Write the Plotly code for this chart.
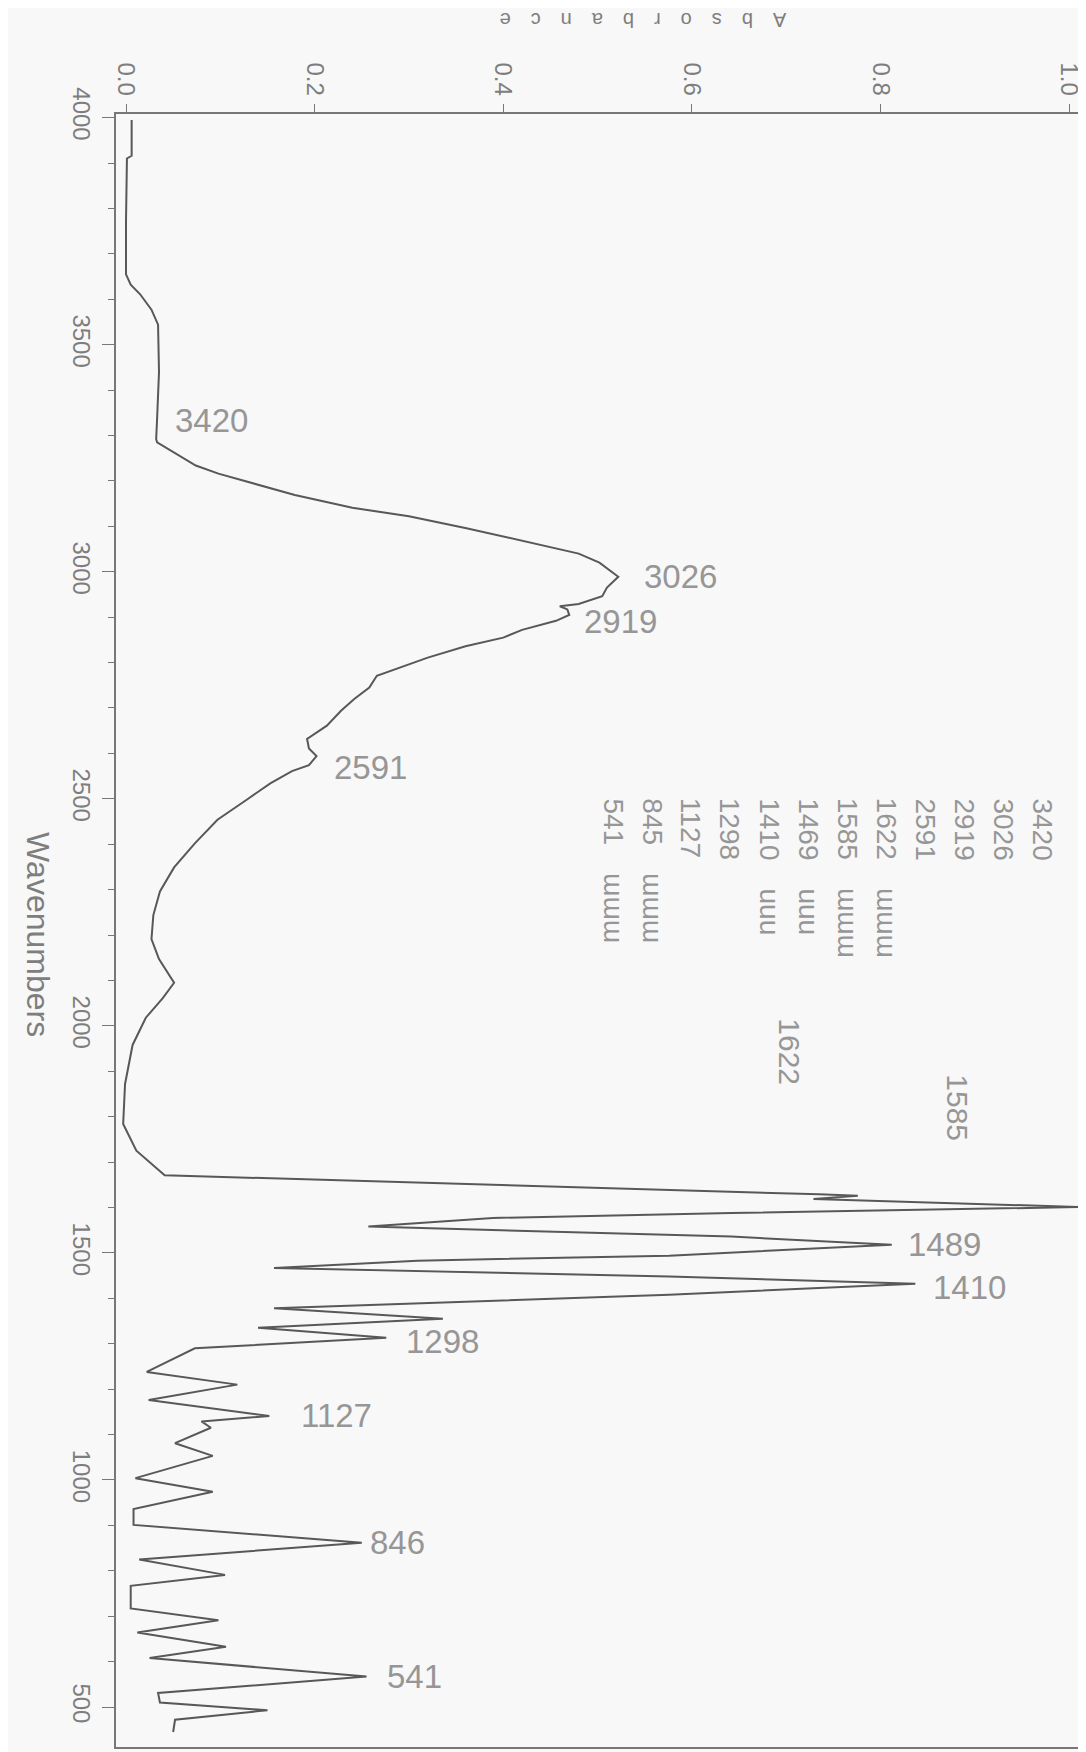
import plotly.graph_objects as go

# ---------------- data ----------------
wavenumber = [3995, 3916, 3910, 3771, 3655, 3632, 3611, 3577, 3544, 3440, 3338, 3292, 3285,
              3267, 3234, 3216, 3198, 3169, 3141, 3122, 3096, 3067, 3040, 3020, 2989, 2965,
              2946, 2929, 2924, 2917, 2905, 2892, 2872, 2855, 2836, 2811, 2785, 2771, 2745,
              2720, 2694, 2661, 2632, 2611, 2594, 2574, 2561, 2534, 2498, 2454, 2402, 2349,
              2296, 2244, 2191, 2147, 2095, 2061, 2018, 1958, 1872, 1784, 1725, 1689, 1671,
              1629, 1626, 1619, 1601, 1588, 1577, 1558, 1551, 1536, 1518, 1494, 1483, 1467,
              1448, 1432, 1408, 1378, 1355, 1335, 1313, 1290, 1238, 1210, 1176, 1141, 1129,
              1115, 1081, 1053, 1004, 974, 936, 901, 862, 825, 791, 767, 717, 691, 664, 633,
              608, 567, 531, 510, 493, 472, 445]
absorbance = [0.006, 0.006, 0.001, 0.000, 0.000, 0.005, 0.015, 0.027, 0.034, 0.035, 0.033, 0.032, 0.033,
              0.048, 0.074, 0.098, 0.130, 0.179, 0.240, 0.300, 0.361, 0.422, 0.480, 0.502, 0.522, 0.510,
              0.505, 0.480, 0.460, 0.468, 0.470, 0.456, 0.420, 0.400, 0.360, 0.320, 0.285, 0.266, 0.258,
              0.242, 0.228, 0.213, 0.192, 0.194, 0.202, 0.194, 0.176, 0.153, 0.128, 0.097, 0.073, 0.051,
              0.036, 0.029, 0.027, 0.035, 0.051, 0.039, 0.021, 0.007, -0.001, -0.003, 0.011, 0.031, 0.041,
              0.735, 0.776, 0.729, 1.012, 0.642, 0.389, 0.257, 0.376, 0.642, 0.812, 0.576, 0.309, 0.157,
              0.576, 0.837, 0.576, 0.157, 0.336, 0.140, 0.276, 0.073, 0.022, 0.118, 0.024, 0.152, 0.080,
              0.090, 0.052, 0.092, 0.010, 0.092, 0.008, 0.008, 0.250, 0.014, 0.105, 0.005, 0.005, 0.098,
              0.012, 0.106, 0.025, 0.255, 0.034, 0.036, 0.150, 0.052, 0.050]

peak_labels = ["3420", "3026", "2919", "2591", "1489", "1410", "1298", "1127", "846", "541"]
side_labels = ["1622", "1585"]
table_rows = ["3420", "3026", "2919", "2591", "1622\u2003ɯɯɯ", "1585\u2003ɯɯɯ", "1469\u2003uuu",
              "1410\u2003uuu", "1298", "1127", "845\u2003ɯɯɯ", "541\u2003ɯɯɯ"]

x_ticks = [0.0, 0.2, 0.4, 0.6, 0.8, 1.0]
x_tick_text = ["0.0", "0.2", "0.4", "0.6", "0.8", "1.0"]
y_ticks = [500, 1000, 1500, 2000, 2500, 3000, 3500, 4000]
y_tick_text = ["500", "1000", "1500", "2000", "2500", "3000", "3500", "4000"]

# ---------------- layout positions (text placement) ----------------
peak_label_pos_abs = [0.050, 0.547, 0.484, 0.218, 0.827, 0.854, 0.295, 0.183, 0.257, 0.275]
peak_label_pos_wn = [3334, 2989, 2891, 2570, 1518, 1424, 1306, 1141, 862, 567]
side_label_pos_abs = [0.704, 0.882]
side_label_pos_wn = [1942, 1819]
table_x0, table_dx, table_top_wn = 0.972, -0.0414, 2506

FONT = "Liberation Sans, Arial, sans-serif"
TXT = "#7e7e7e"
LBL = "#969696"

fig = go.Figure()
fig.add_trace(go.Scatter(x=absorbance, y=wavenumber, mode="lines",
                         line=dict(color="#585858", width=2), hoverinfo="skip"))

ann = []
for t, xa, yw in zip(peak_labels, peak_label_pos_abs, peak_label_pos_wn):
    ann.append(dict(x=xa, y=yw, xref="x", yref="y", text=t, showarrow=False,
                    xanchor="left", yanchor="middle",
                    font=dict(family=FONT, size=33, color=LBL)))
for t, xa, yw in zip(side_labels, side_label_pos_abs, side_label_pos_wn):
    ann.append(dict(x=xa, y=yw, xref="x", yref="y", text=t, showarrow=False, textangle=90,
                    xanchor="center", yanchor="middle",
                    font=dict(family=FONT, size=30, color=LBL)))
for i, t in enumerate(table_rows):
    ann.append(dict(x=table_x0 + i * table_dx, y=table_top_wn, xref="x", yref="y", text=t,
                    showarrow=False, textangle=90, xanchor="center", yanchor="top",
                    font=dict(family=FONT, size=28, color=LBL)))

ann.append(dict(x=-0.080, y=0.4975, xref="paper", yref="paper", text="Wavenumbers",
                showarrow=False, textangle=90, xanchor="center", yanchor="middle",
                font=dict(family=FONT, size=32, color=TXT)))
ann.append(dict(x=0.544, y=1.0576, xref="paper", yref="paper",
                text="\u2003".join("Absorbance"), showarrow=False, textangle=180,
                xanchor="center", yanchor="middle",
                font=dict(family=FONT, size=20, color=TXT)))

fig.update_layout(
    width=1086, height=1752, autosize=False,
    margin=dict(l=108, r=7, t=106, b=13),
    paper_bgcolor="#f8f8f8", plot_bgcolor="#f8f8f8",
    showlegend=False, annotations=ann,
)
fig.update_xaxes(side="top", range=[-0.0106, 1.0169], tickvals=x_ticks, ticktext=x_tick_text,
                 tickangle=90, ticks="outside", ticklen=8, tickcolor="#777",
                 showline=True, linecolor="#777", linewidth=1.5, mirror=True,
                 showgrid=False, zeroline=False,
                 tickfont=dict(family=FONT, size=24, color=TXT))
fig.update_yaxes(range=[412, 4008], tickvals=y_ticks, ticktext=y_tick_text,
                 tickangle=90, ticks="outside", ticklen=12, tickcolor="#777",
                 minor=dict(dtick=100, ticks="outside", ticklen=6, tickcolor="#777"),
                 showline=True, linecolor="#777", linewidth=1.5, mirror=True,
                 showgrid=False, zeroline=False,
                 tickfont=dict(family=FONT, size=24, color=TXT))

fig.write_html("out.html")
